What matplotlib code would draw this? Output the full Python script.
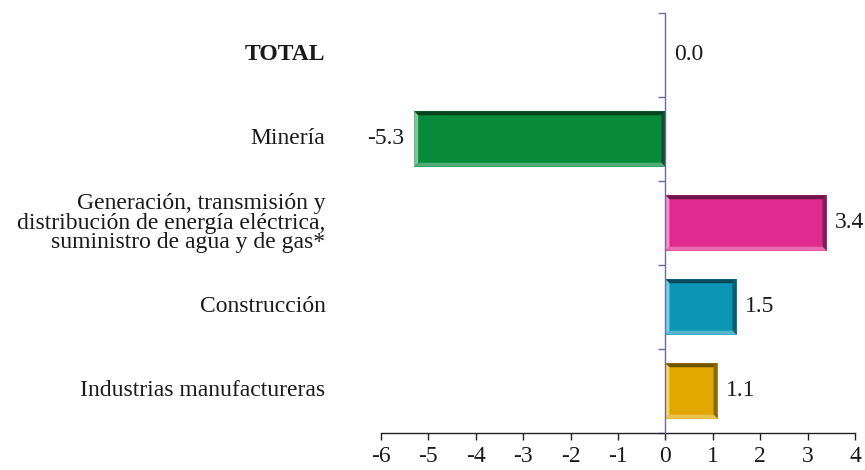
import matplotlib
matplotlib.use("Agg")
import matplotlib.pyplot as plt
from matplotlib.patches import Polygon
from matplotlib.colors import to_rgb
import numpy as np

plt.rcParams['font.family'] = ['Liberation Serif', 'DejaVu Serif']

categories = [
    "TOTAL",
    "Minería",
    "Generación, transmisión y\ndistribución de energía eléctrica,\nsuministro de agua y de gas*",
    "Construcción",
    "Industrias manufactureras",
]
values = [0.0, -5.3, 3.4, 1.5, 1.1]
colors = ["#7f7f7f", "#078a3a", "#e02a90", "#0c96b6", "#e2a800"]
x_ticks = [-6, -5, -4, -3, -2, -1, 0, 1, 2, 3, 4]

fig = plt.figure(figsize=(8.65, 4.70), dpi=100)
ax = fig.add_axes([381 / 865, 37 / 470, 474 / 865, 420 / 470])

n = len(categories)
ypos = np.arange(n)[::-1]  # first category at the top
ax.set_xlim(-6, 4)
ax.set_ylim(-0.5, n - 0.5)

bar_h = 0.66
text_color = "#1a1a1a"
fs = 17

# units per pixel, for a bevel of fixed pixel width
p0 = ax.transData.transform((0, 0))
p1 = ax.transData.transform((1, 1))
ux = 1.0 / (p1[0] - p0[0])
uy = 1.0 / (p1[1] - p0[1])
bev = 4.0


def shade(c, f):
    r = np.array(to_rgb(c))
    return tuple(np.clip(r * f, 0, 1))


def tint(c, f):
    r = np.array(to_rgb(c))
    return tuple(np.clip(r + (1 - r) * f, 0, 1))


for y, v, c in zip(ypos, values, colors):
    if v == 0:
        continue
    ax.barh(y, v, height=bar_h, color=c, edgecolor="none", zorder=2)
    x0, x1 = min(0, v), max(0, v)
    y0, y1 = y - bar_h / 2, y + bar_h / 2
    dx, dy = bev * ux, bev * uy
    faces = [
        ([(x0, y1), (x1, y1), (x1 - dx, y1 - dy), (x0 + dx, y1 - dy)], shade(c, 0.5)),
        ([(x1, y0), (x1, y1), (x1 - dx, y1 - dy), (x1 - dx, y0 + dy)], shade(c, 0.62)),
        ([(x0, y0), (x1, y0), (x1 - dx, y0 + dy), (x0 + dx, y0 + dy)], tint(c, 0.3)),
        ([(x0, y0), (x0, y1), (x0 + dx, y1 - dy), (x0 + dx, y0 + dy)], tint(c, 0.5)),
    ]
    for pts, fc in faces:
        ax.add_patch(Polygon(pts, closed=True, facecolor=fc, edgecolor="none", zorder=3))

# value labels
for y, v in zip(ypos, values):
    if v < 0:
        ax.annotate(f"{v:.1f}", (v, y), xytext=(-7, 0), textcoords="offset points",
                    ha="right", va="center", fontsize=fs, color=text_color)
    else:
        ax.annotate(f"{v:.1f}", (v, y), xytext=(6, 0), textcoords="offset points",
                    ha="left", va="center", fontsize=fs, color=text_color)

# category labels
for y, lab in zip(ypos, categories):
    bold = lab == "TOTAL"
    ax.annotate(lab, (-6, y), xytext=(-40, 0), textcoords="offset points",
                ha="right", va="center", multialignment="right",
                fontsize=fs, linespacing=0.9, color=text_color,
                fontweight="bold" if bold else "normal", annotation_clip=False)

# axes styling
for s in ("top", "right"):
    ax.spines[s].set_visible(False)
ax.spines["left"].set_position(("data", 0))
ax.spines["left"].set_color("#6a6aa8")
ax.spines["left"].set_linewidth(1.0)
ax.spines["left"].set_zorder(4)
ax.spines["bottom"].set_color("#222222")
ax.spines["bottom"].set_linewidth(1.0)

ax.set_xticks(x_ticks)
ax.set_xticklabels([str(t) for t in x_ticks])
ax.tick_params(axis="x", direction="out", length=5, width=1.0, colors="#222222",
               labelsize=fs, labelcolor=text_color, pad=4)
ax.set_yticks(np.arange(-0.5, n, 1.0))
ax.set_yticklabels([])
ax.tick_params(axis="y", direction="out", length=5, width=1.0, colors="#6a6aa8")

fig.savefig("out.png", dpi=100)
